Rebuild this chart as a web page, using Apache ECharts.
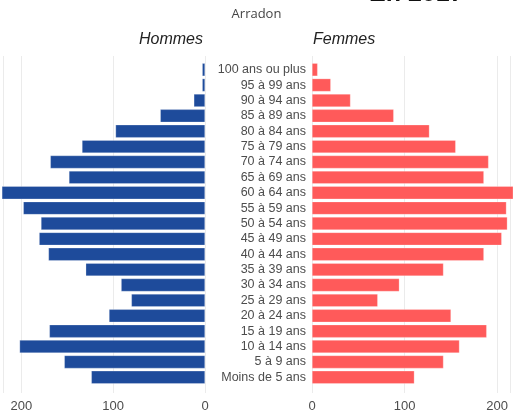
<!DOCTYPE html>
<html>
<head>
<meta charset="utf-8">
<script src="https://cdn.jsdelivr.net/npm/echarts@6/dist/echarts.min.js"></script>
<style>
  html, body { margin: 0; padding: 0; background: #fff; }
  #chart { width: 513px; height: 414px; }
</style>
</head>
<body>
<div id="chart"></div>
<script>
// age groups, from bottom to top
const ageGroups = [
  "Moins de 5 ans", "5 à 9 ans", "10 à 14 ans", "15 à 19 ans", "20 à 24 ans",
  "25 à 29 ans", "30 à 34 ans", "35 à 39 ans", "40 à 44 ans", "45 à 49 ans",
  "50 à 54 ans", "55 à 59 ans", "60 à 64 ans", "65 à 69 ans", "70 à 74 ans",
  "75 à 79 ans", "80 à 84 ans", "85 à 89 ans", "90 à 94 ans", "95 à 99 ans",
  "100 ans ou plus"
];
const hommes = [122, 151, 199, 167, 103, 79, 90, 128, 168, 178, 176, 195, 218, 146, 166, 132, 96, 48, 12, 3, 3];
const femmes = [109, 140, 157, 186, 148, 70, 93, 140, 183, 202, 208, 207, 215, 183, 188, 153, 125, 87, 41, 20, 6];
const tickValues = [0, 100, 200];

const font = "Liberation Sans, Arial, sans-serif";
const txt = "#4d4d4d";

const chart = echarts.init(document.getElementById("chart"));

function tickLabel(v) {
  return tickValues.indexOf(v) >= 0 ? String(v) : "";
}

const option = {
  animation: false,
  title: [
    {
      text: "Arradon",
      left: "center",
      top: 3,
      textStyle: { fontFamily: "Open Sans", fontSize: 13, fontWeight: "normal", color: "#444" }
    },
    {
      // year heading, cut off by the top edge
      text: "En 2017",
      left: 369,
      top: -18,
      padding: 0,
      textStyle: { fontFamily: font, fontSize: 25, fontWeight: "bold", color: "#111" }
    }
  ],
  graphic: [
    { type: "text", x: 139, y: 32, style: { text: "Hommes", font: "italic 16px Liberation Sans", fill: "#222" } },
    { type: "text", x: 313, y: 32, style: { text: "Femmes", font: "italic 16px Liberation Sans", fill: "#222" } }
  ],
  grid: [
    { left: 0, width: 205, top: 62, height: 323 },
    { left: 312, right: 0, top: 62, height: 323 },
    { left: 0, width: 205, top: 56, height: 337 },
    { left: 312, right: 0, top: 56, height: 337 }
  ],
  xAxis: [
    { gridIndex: 0, type: "value", inverse: true, min: 0, max: 220, interval: 100, show: false },
    { gridIndex: 1, type: "value", min: 0, max: 214, interval: 100, show: false },
    {
      gridIndex: 2, type: "value", inverse: true, min: 0, max: 220, interval: 100,
      axisLine: { show: false }, axisTick: { show: false },
      splitLine: { lineStyle: { color: "#ebebeb" } },
      axisLabel: { formatter: tickLabel, color: txt, fontFamily: font, fontSize: 13, margin: 7 }
    },
    {
      gridIndex: 3, type: "value", min: 0, max: 214, interval: 100,
      axisLine: { show: false }, axisTick: { show: false },
      splitLine: { lineStyle: { color: "#ebebeb" } },
      axisLabel: { formatter: tickLabel, color: txt, fontFamily: font, fontSize: 13, margin: 7 }
    }
  ],
  yAxis: [
    { gridIndex: 0, type: "category", data: ageGroups, show: false },
    {
      gridIndex: 1, type: "category", data: ageGroups, position: "left",
      axisLine: { show: false },
      axisTick: { length: 4, interval: 0, lineStyle: { color: "#cccccc" } },
      axisLabel: { interval: 0, color: txt, fontFamily: font, fontSize: 12.5, margin: 6 }
    },
    { gridIndex: 2, type: "value", show: false, splitLine: { show: false } },
    { gridIndex: 3, type: "value", show: false, splitLine: { show: false } }
  ],
  series: [
    {
      name: "Hommes", type: "bar", xAxisIndex: 0, yAxisIndex: 0, data: hommes,
      barCategoryGap: "16%",
      itemStyle: { color: "#1e4b9b", borderColor: "rgba(255,255,255,0.5)", borderWidth: 0.5 }
    },
    {
      name: "Femmes", type: "bar", xAxisIndex: 1, yAxisIndex: 1, data: femmes,
      barCategoryGap: "16%",
      itemStyle: { color: "#ff5a5a", borderColor: "rgba(255,255,255,0.5)", borderWidth: 0.5 }
    }
  ]
};

chart.setOption(option);
</script>
</body>
</html>
